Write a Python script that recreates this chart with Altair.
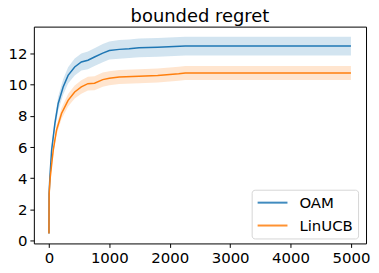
import altair as alt
import pandas as pd

# OAM series
oam_x = [0, 2, 16, 44, 98, 153, 235, 317, 426, 536, 645, 754, 891, 1000, 1164, 1328, 1492, 1800, 2257, 3000, 4000, 5000]
oam_y = [0.45, 3.0, 4.1, 5.8, 7.5, 8.8, 9.86, 10.6, 11.14, 11.46, 11.57, 11.78, 12.03, 12.2, 12.27, 12.31, 12.37, 12.4, 12.48, 12.48, 12.48, 12.48]
oam_err = [0.05, 0.15, 0.2, 0.3, 0.38, 0.45, 0.5, 0.52, 0.55, 0.55, 0.57, 0.57, 0.58, 0.58, 0.6, 0.6, 0.6, 0.6, 0.6, 0.6, 0.6, 0.6]

# LinUCB series
lin_x = [0, 3, 20, 45, 71, 126, 208, 317, 426, 536, 645, 754, 891, 1000, 1164, 1492, 1800, 2148, 2257, 3000, 4000, 5000]
lin_y = [0.45, 3.0, 4.0, 4.9, 5.8, 7.1, 8.16, 9.0, 9.54, 9.86, 10.07, 10.1, 10.33, 10.42, 10.5, 10.54, 10.6, 10.7, 10.75, 10.75, 10.75, 10.75]
lin_err = [0.05, 0.12, 0.18, 0.22, 0.25, 0.3, 0.35, 0.4, 0.42, 0.43, 0.44, 0.45, 0.45, 0.45, 0.45, 0.45, 0.45, 0.45, 0.45, 0.45, 0.45, 0.45]

series = ["OAM", "LinUCB"]
colors = ["#1f77b4", "#ff7f0e"]
x_ticks = [0, 1000, 2000, 3000, 4000, 5000]
y_ticks = [0, 2, 4, 6, 8, 10, 12]

rows = []
for name, xs, ys, es in [("OAM", oam_x, oam_y, oam_err), ("LinUCB", lin_x, lin_y, lin_err)]:
    for x, y, e in zip(xs, ys, es):
        rows.append({"series": name, "x": x, "y": y, "lo": y - e, "hi": y + e})
df = pd.DataFrame(rows)

legend = alt.Legend(title=None, orient="none", legendX=219, legendY=164,
                    symbolType="stroke", symbolSize=900, symbolStrokeWidth=2, symbolOpacity=0.85,
                    clipHeight=16, rowPadding=7,
                    labelFontSize=15, labelFont="DejaVu Sans", labelColor="black",
                    labelOffset=11, padding=5,
                    strokeColor="#d6d6d6", fillColor="white", cornerRadius=3)
cscale = alt.Scale(domain=series, range=colors)
color = alt.Color("series:N", scale=cscale, sort=series, legend=legend)

yscale = alt.Scale(domain=[-0.18, 13.73], nice=False, zero=False)
xscale = alt.Scale(domain=[-250, 5250], nice=False, zero=False)
xaxis = alt.Axis(values=x_ticks, title=None, grid=False, format="d", domain=False,
                 labelOverlap=False, labelPadding=3)
yaxis = alt.Axis(values=y_ticks, title=None, grid=False, domain=False,
                 labelOverlap=False, labelPadding=3)

bands = []
for name, col in zip(series, colors):
    bands.append(
        alt.Chart(df).transform_filter(alt.datum.series == name).mark_area(opacity=0.2, color=col).encode(
            x=alt.X("x:Q", scale=xscale, axis=xaxis),
            y=alt.Y("lo:Q", scale=yscale, axis=yaxis),
            y2="hi:Q")
    )

line = alt.Chart(df).mark_line(strokeWidth=1.5).encode(
    x=alt.X("x:Q", scale=xscale, axis=xaxis),
    y=alt.Y("y:Q", scale=yscale, axis=yaxis),
    color=color, order="x:Q")

chart = alt.layer(*bands, line).properties(
    width=334, height=218,
    title=alt.TitleParams("bounded regret", font="DejaVu Sans", fontSize=18, fontWeight="normal",
                          color="black", offset=1),
    autosize=alt.AutoSizeParams(type="none"),
    padding={"left": 26, "top": 18, "right": 5, "bottom": 28},
).configure_view(stroke="black", strokeWidth=1).configure_axis(
    labelFont="DejaVu Sans", labelFontSize=15, labelColor="black", tickColor="black",
    tickSize=4, tickWidth=1
)

chart.save("out.html", embed_options={"renderer": "svg", "actions": False})
